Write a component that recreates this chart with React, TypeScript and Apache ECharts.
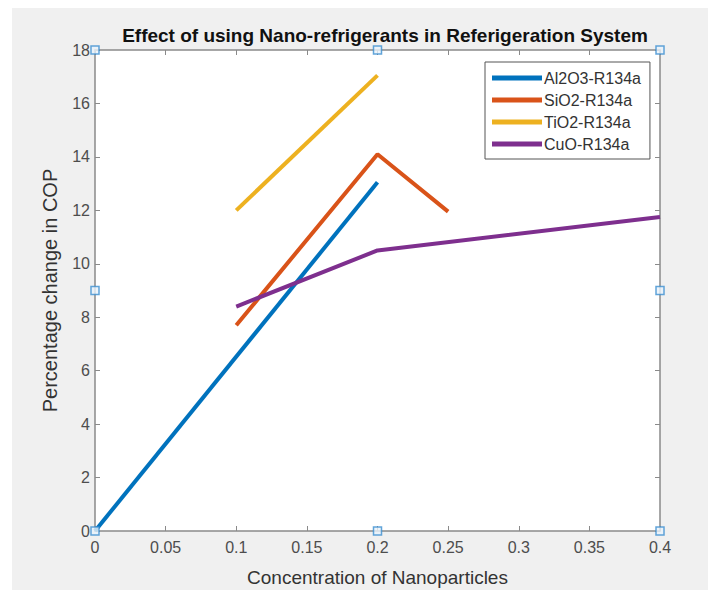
import React, { useEffect, useRef } from "react";
import * as echarts from "echarts";

const seriesNames = ["Al2O3-R134a", "SiO2-R134a", "TiO2-R134a", "CuO-R134a"];
const al2o3: [number, number][] = [[0, 0], [0.2, 13.05]];
const sio2: [number, number][] = [[0.1, 7.7], [0.2, 14.1], [0.25, 11.95]];
const tio2: [number, number][] = [[0.1, 12.0], [0.2, 17.05]];
const cuo: [number, number][] = [[0.1, 8.4], [0.2, 10.5], [0.4, 11.75]];
const colors = ["#0072BD", "#D95319", "#EDB120", "#7E2F8E"];
const xMin = 0, xMax = 0.4, xStep = 0.05;
const yMin = 0, yMax = 18, yStep = 2;
const handles: [number, number][] = [
  [xMin, yMax], [(xMin + xMax) / 2, yMax], [xMax, yMax],
  [xMin, (yMin + yMax) / 2], [xMax, (yMin + yMax) / 2],
  [xMin, yMin], [(xMin + xMax) / 2, yMin], [xMax, yMin],
];

const FONT = "Liberation Sans, Arial, sans-serif";

export default function App() {
  const ref = useRef<HTMLDivElement>(null);
  useEffect(() => {
    const chart = echarts.init(ref.current!, undefined, { renderer: "svg" });
    const axisCommon = {
      axisLine: { show: true, onZero: false, lineStyle: { color: "#8a8a8a", width: 1.5 } },
      axisTick: { show: true, inside: true, length: 5, lineStyle: { color: "#8a8a8a" } },
      splitLine: { show: false },
    };
    const datas = [al2o3, sio2, tio2, cuo];
    chart.setOption({
      animation: false,
      backgroundColor: "#ffffff",
      color: colors,
      graphic: [
        { type: "rect", left: 12, top: 8, shape: { width: 696, height: 582 }, style: { fill: "#f0f0f0" }, z: -10, silent: true },
      ],
      title: {
        text: "Effect of using Nano-refrigerants in Referigeration System",
        left: 380, textAlign: "center", top: 21,
        textStyle: { fontFamily: FONT, fontWeight: "bold", fontSize: 19, color: "#111" },
      },
      grid: { left: 95, top: 50, right: 48, bottom: 60, show: true, backgroundColor: "#ffffff", borderWidth: 0 },
      legend: {
        orient: "vertical", left: 485, top: 62,
        data: seriesNames,
        itemWidth: 50, itemHeight: 5, itemGap: 6, icon: "rect",
        padding: [8, 9, 7, 7],
        backgroundColor: "#ffffff", borderColor: "#555", borderWidth: 1,
        textStyle: { fontFamily: FONT, fontSize: 16, color: "#333", padding: [0, 0, 0, -3] },
      },
      xAxis: [
        {
          type: "value", min: xMin, max: xMax, interval: xStep, position: "bottom",
          name: "Concentration of Nanoparticles", nameLocation: "middle", nameGap: 37,
          nameTextStyle: { fontFamily: FONT, fontSize: 19, color: "#333" },
          axisLabel: { fontFamily: FONT, fontSize: 16, color: "#4d4d4d", margin: 8 },
          ...axisCommon,
        },
        {
          type: "value", min: xMin, max: xMax, interval: xStep, position: "top",
          axisLabel: { show: false }, ...axisCommon,
        },
      ],
      yAxis: [
        {
          type: "value", min: yMin, max: yMax, interval: yStep, position: "left",
          name: "Percentage change in COP", nameLocation: "middle", nameGap: 35,
          nameTextStyle: { fontFamily: FONT, fontSize: 20, color: "#333" },
          axisLabel: { fontFamily: FONT, fontSize: 16, color: "#4d4d4d", margin: 5 },
          ...axisCommon,
        },
        {
          type: "value", min: yMin, max: yMax, interval: yStep, position: "right",
          axisLabel: { show: false }, ...axisCommon,
        },
      ],
      series: [
        ...datas.map((d, i) => ({
          name: seriesNames[i], type: "line", data: d, showSymbol: false, symbol: "none",
          lineStyle: { width: 4, color: colors[i] }, itemStyle: { color: colors[i] },
          xAxisIndex: 0, yAxisIndex: 0, z: 3,
        })),
        {
          name: "handles", type: "scatter", data: handles, symbol: "rect", symbolSize: 8,
          itemStyle: { color: "#e8f2fb", borderColor: "#3b8ed0", borderWidth: 1.5 },
          z: 5, silent: true, clip: false,
        },
      ],
    });
    return () => chart.dispose();
  }, []);
  return <div ref={ref} style={{ position: "fixed", left: 0, top: 0, width: 708, height: 592 }} />;
}
